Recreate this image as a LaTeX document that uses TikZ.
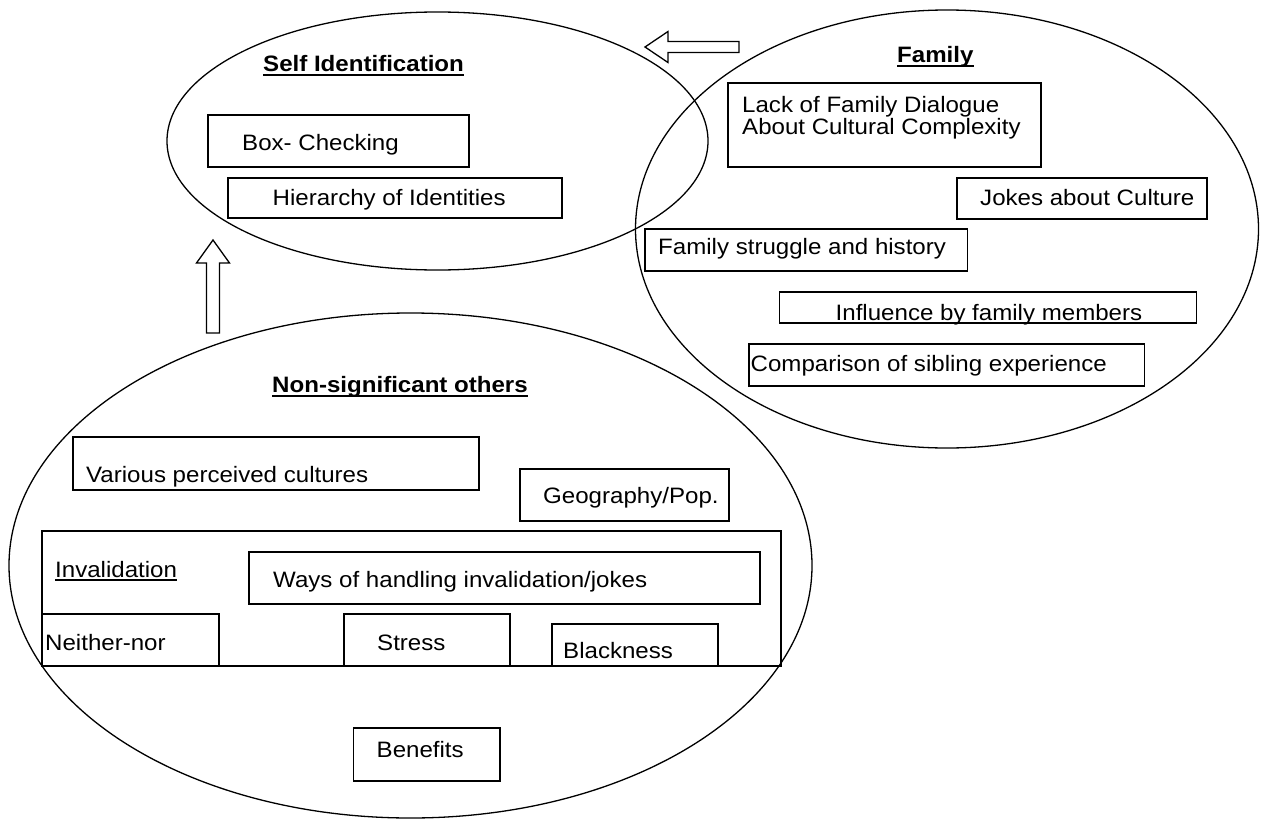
\documentclass[tikz,border=0pt]{standalone}
\usepackage{fontspec}
\setmainfont[FakeStretch=1.08]{Liberation Sans}
\usetikzlibrary{shapes.geometric}

\newcommand{\ulthick}[1]{\setbox0=\hbox{\bfseries #1}\rlap{\rule[-5pt]{\wd0}{2pt}}\box0}
\newcommand{\ulthin}[1]{\setbox0=\hbox{#1}\rlap{\rule[-3.5pt]{\wd0}{1.2pt}}\box0}

\tikzset{
  circ/.style={draw, ellipse, line width=1.3pt, inner sep=0pt},
  box/.style={draw, rectangle, line width=1.5pt, inner sep=0pt},
  lbl/.style={anchor=base west, inner sep=0pt, font=\fontsize{22.3}{22}\selectfont},
  blockarrow/.style={draw, line width=1.3pt, line join=miter, fill=white},
}

\begin{document}
\begin{tikzpicture}[x=1pt,y=-1pt]
    \useasboundingbox (0,0) rectangle (1261,819);

%circles
    \node[circ, minimum width=541, minimum height=258] (selfid) at (437.5,141) {};
    \node[circ, minimum width=623, minimum height=438] (family) at (947,229) {};
    \node[circ, minimum width=803, minimum height=505] (nonsig) at (410.5,565.5) {};

%self identification
    \node[lbl] (tself) at (263,71) {\ulthick{Self Identification}};
    \node[box, minimum width=261, minimum height=52] (bcheck) at (338.5,141) {};
    \node[lbl] (tcheck) at (242,150.5) {Box- Checking};
    \node[box, minimum width=334, minimum height=40] (bhier) at (395,198) {};
    \node[lbl] (thier) at (272.5,205) {Hierarchy of Identities};

%family
    \node[lbl] (tfam) at (897,62) {\ulthick{Family}};
    \node[box, minimum width=313, minimum height=84] (black) at (884.5,125) {};
    \node[lbl] (tlackA) at (742,112) {Lack of Family Dialogue};
    \node[lbl] (tlackB) at (742,134) {About Cultural Complexity};
    \node[box, minimum width=250, minimum height=41] (bjokes) at (1082,198.5) {};
    \node[lbl] (tjokes) at (980,205) {Jokes about Culture};
    \node[box, minimum width=322.5, minimum height=42] (bstrug) at (806.25,250) {};
    \node[lbl] (tstrug) at (658,254) {Family struggle and history};
    \node[box, minimum width=417, minimum height=31] (binfl) at (988,307.5) {};
    \node[lbl] (tinfl) at (835.5,320) {Influence by family members};
    \node[box, minimum width=395.5, minimum height=42] (bcomp) at (946.75,365) {};
    \node[lbl] (tcomp) at (750.5,371) {Comparison of sibling experience};

%non-significant others
    \node[lbl] (tnonsig) at (272,392) {\ulthick{Non-significant others}};
    \node[box, minimum width=406, minimum height=53] (bvar) at (276,463.5) {};
    \node[lbl] (tvar) at (86,482) {Various perceived cultures};
    \node[box, minimum width=209, minimum height=52] (bgeo) at (624.5,495) {};
    \node[lbl] (tgeo) at (543,503) {Geography/Pop.};

%invalidation
    \node[box, line width=1.3pt, minimum width=739, minimum height=135] (binval) at (411.5,598.5) {};
    \node[lbl] (tinval) at (55,577) {\ulthin{Invalidation}};
    \node[box, minimum width=511, minimum height=52] (bways) at (504.5,578) {};
    \node[lbl] (tways) at (273,587) {Ways of handling invalidation/jokes};
    \node[box, minimum width=177, minimum height=52] (bneither) at (130.5,640) {};
    \node[lbl] (tneither) at (45,650) {Neither-nor};
    \node[box, minimum width=166, minimum height=52] (bstress) at (427,640) {};
    \node[lbl] (tstress) at (377,650) {Stress};
    \node[box, minimum width=166, minimum height=42] (bblack) at (635,645) {};
    \node[lbl] (tblack) at (563,658) {Blackness};
    \node[box, minimum width=146.5, minimum height=53] (bbenef) at (426.75,754.5) {};
    \node[lbl] (tbenef) at (376.5,757) {Benefits};

%arrows
    \coordinate (famtip) at (645,47);
    \draw[blockarrow] (famtip) -- ++(23,-15.5) -- ++(0,10) -- ++(71,0) -- ++(0,11) -- ++(-71,0) -- ++(0,10) -- cycle;
    \coordinate (nstip) at (213,240);
    \draw[blockarrow] (nstip) -- ++(16.5,23) -- ++(-10,0) -- ++(0,70) -- ++(-13,0) -- ++(0,-70) -- ++(-10,0) -- cycle;

\end{tikzpicture}
\end{document}
